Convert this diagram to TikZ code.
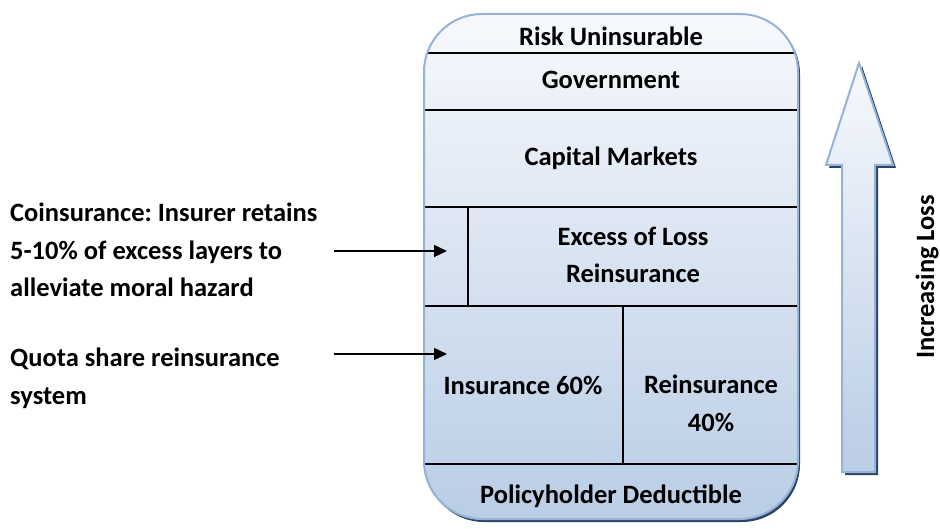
\documentclass[tikz,border=0pt]{standalone}
\usepackage{fontspec}
\setmainfont{Carlito}
\usetikzlibrary{arrows.meta}
\definecolor{edgeblue}{HTML}{95B3D7}
\definecolor{topfill}{HTML}{F7F9FD}
\definecolor{botfill}{HTML}{B9CDE5}
\definecolor{shadowblue}{HTML}{2C4564}
\frenchspacing
\tikzset{
  lbl/.style={font=\bfseries\fontsize{26.5}{30}\selectfont, inner sep=0pt},
  sidetext/.style={font=\bfseries\fontsize{26.5}{37.5}\selectfont, align=left, anchor=north west, inner sep=0pt},
  divider/.style={line width=1.5pt, black},
  pointer/.style={line width=1.3pt, -{Triangle[length=13pt,width=12pt]}},
}
\begin{document}
\begin{tikzpicture}[x=1pt,y=-1pt]
\useasboundingbox (0,0) rectangle (940,529);
% main box
\def\boxpath{(424,14) rectangle (798,519)}
\fill[shadowblue, rounded corners=58pt] (426,16) rectangle (800,522);
\shade[top color=topfill, bottom color=botfill, rounded corners=58pt] \boxpath;
\begin{scope}
\clip[rounded corners=58pt] \boxpath;
\draw[divider] (420,53) -- (802,53);
\draw[divider] (420,110) -- (802,110);
\draw[divider] (420,207) -- (802,207);
\draw[divider] (420,306) -- (802,306);
\draw[divider] (420,464) -- (802,464);
\draw[divider] (468,207) -- (468,306);
\draw[divider] (623,306) -- (623,464);
\end{scope}
\draw[edgeblue, line width=2pt, rounded corners=58pt] \boxpath;
% labels
\node[lbl] (risk) at (611,36) {Risk Uninsurable};
\node[lbl] (gov) at (611,80) {Government};
\node[lbl] (cap) at (611,158) {Capital Markets};
\node[lbl, align=center, font=\bfseries\fontsize{26.5}{37}\selectfont] (xol) at (633,255) {Excess of Loss\\Reinsurance};
\node[lbl] (ins) at (523,385) {Insurance 60\%};
\node[lbl, align=center, font=\bfseries\fontsize{26.5}{38}\selectfont] (reins) at (711,403) {Reinsurance\\40\%};
\node[lbl] (ded) at (611,496) {Policyholder Deductible};
% side texts
\node[sidetext] (coins) at (10,203) {Coinsurance: Insurer retains\\5-10\% of excess layers to\\alleviate moral hazard};
\node[sidetext] (quota) at (10,348) {Quota share reinsurance\\system};
\coordinate (c1s) at (334,251);
\coordinate (c1e) at (447,251);
\coordinate (c2s) at (334,354);
\coordinate (c2e) at (447,354);
\draw[pointer] (c1s) -- (c1e);
\draw[pointer] (c2s) -- (c2e);
% big arrow
\fill[shadowblue] (845,475) -- (878,475) -- (878,168) -- (896,168) -- (862,66) -- (829,168) -- (845,168) -- cycle;
\shade[top color=topfill, bottom color=botfill, draw=edgeblue, line width=2pt]
  (842,472) -- (875,472) -- (875,165) -- (893,165) -- (859,63) -- (826,165) -- (842,165) -- cycle;
\node[lbl, rotate=90] (incr) at (927,277) {Increasing Loss};
\end{tikzpicture}
\end{document}
